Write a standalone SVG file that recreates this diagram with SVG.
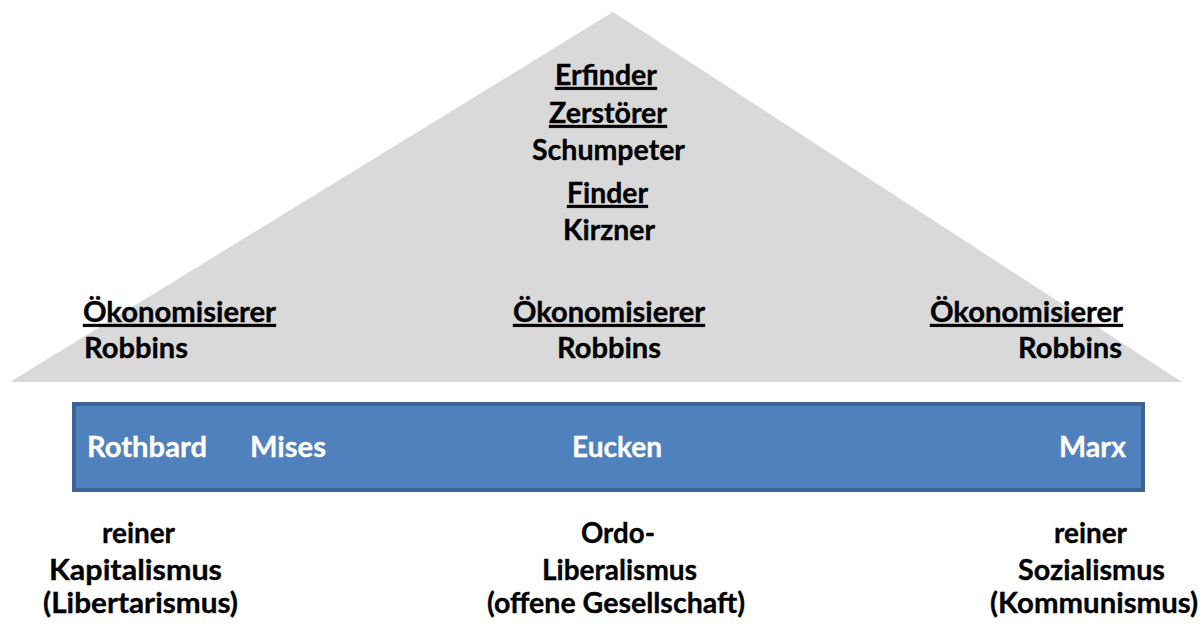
<svg xmlns="http://www.w3.org/2000/svg" width="1204" height="624" viewBox="0 0 1204 624">
<style>
text{font-family:Lato,"Open Sans","Liberation Sans",sans-serif;font-weight:bold;font-size:29px;fill:#000;stroke:#000;stroke-width:0.35px}
.u{text-decoration:underline}
.w{fill:#fff;stroke:#fff}
.tri{fill:#d9d9d9}
.bar{fill:#4f81bd;stroke:#3d6494;stroke-width:4}
</style>
<rect width="1204" height="624" fill="#fff"/>
<g id="triangle">
<polygon class="tri" points="613,12 1182,382 10,382"/>
</g>
<g id="top-labels">
<text class="u" x="555" y="85" textLength="102" lengthAdjust="spacingAndGlyphs">Erfinder</text>
<text class="u" x="549" y="123" textLength="118" lengthAdjust="spacingAndGlyphs">Zerstörer</text>
<text x="532" y="160" textLength="153" lengthAdjust="spacingAndGlyphs">Schumpeter</text>
<text class="u" x="567" y="203" textLength="81" lengthAdjust="spacingAndGlyphs">Finder</text>
<text x="563" y="240" textLength="92" lengthAdjust="spacingAndGlyphs">Kirzner</text>
</g>
<g id="left-label">
<text class="u" x="83" y="322" textLength="193" lengthAdjust="spacingAndGlyphs">Ökonomisierer</text>
<text x="84" y="358" textLength="104" lengthAdjust="spacingAndGlyphs">Robbins</text>
</g>
<g id="middle-label">
<text class="u" x="513" y="322" textLength="192" lengthAdjust="spacingAndGlyphs">Ökonomisierer</text>
<text x="557" y="358" textLength="104" lengthAdjust="spacingAndGlyphs">Robbins</text>
</g>
<g id="right-label">
<text class="u" x="930" y="322" textLength="193" lengthAdjust="spacingAndGlyphs">Ökonomisierer</text>
<text x="1018" y="358" textLength="104" lengthAdjust="spacingAndGlyphs">Robbins</text>
</g>
<g id="bar">
<rect class="bar" x="74" y="404" width="1069" height="86"/>
<text class="w" x="87" y="457" textLength="120" lengthAdjust="spacingAndGlyphs">Rothbard</text>
<text class="w" x="250" y="457" textLength="76" lengthAdjust="spacingAndGlyphs">Mises</text>
<text class="w" x="572" y="457" textLength="90" lengthAdjust="spacingAndGlyphs">Eucken</text>
<text class="w" x="1059" y="457" textLength="67" lengthAdjust="spacingAndGlyphs">Marx</text>
</g>
<g id="left-bottom">
<text x="102" y="543" textLength="73" lengthAdjust="spacingAndGlyphs">reiner</text>
<text x="49" y="580" textLength="173" lengthAdjust="spacingAndGlyphs">Kapitalismus</text>
<text x="43" y="613" textLength="195" lengthAdjust="spacingAndGlyphs">(Libertarismus)</text>
</g>
<g id="middle-bottom">
<text x="581" y="543" textLength="74" lengthAdjust="spacingAndGlyphs">Ordo-</text>
<text x="542" y="580" textLength="155" lengthAdjust="spacingAndGlyphs">Liberalismus</text>
<text x="487" y="613" textLength="258" lengthAdjust="spacingAndGlyphs">(offene Gesellschaft)</text>
</g>
<g id="right-bottom">
<text x="1054" y="543" textLength="73" lengthAdjust="spacingAndGlyphs">reiner</text>
<text x="1018" y="580" textLength="147" lengthAdjust="spacingAndGlyphs">Sozialismus</text>
<text x="990" y="613" textLength="208" lengthAdjust="spacingAndGlyphs">(Kommunismus)</text>
</g>
</svg>
